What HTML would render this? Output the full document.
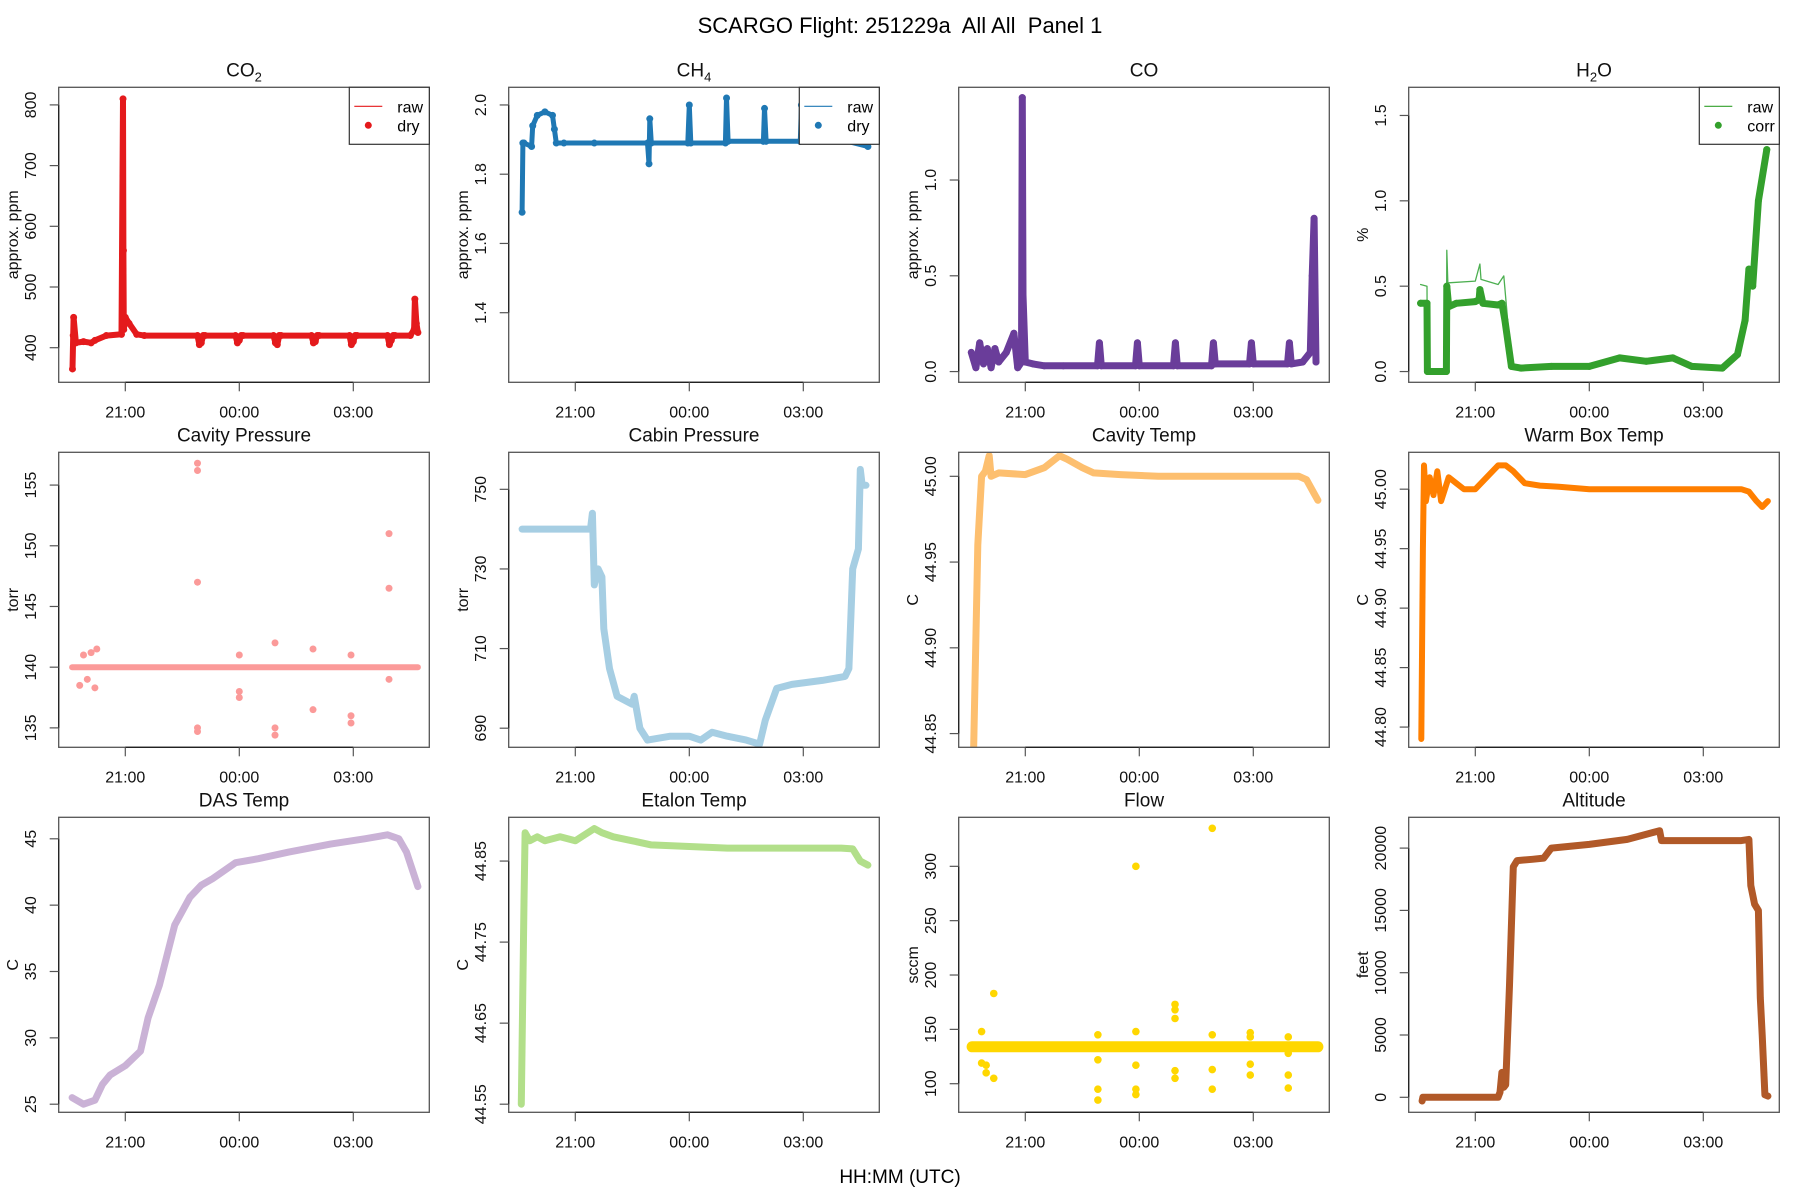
<!DOCTYPE html>
<html><head><meta charset="utf-8"><style>
html,body{margin:0;padding:0;background:#fff}
svg{display:block;font-family:"Liberation Sans",Arial,sans-serif}
</style></head><body>
<svg id="fig" width="1800" height="1200" viewBox="0 0 1800 1200">
<text x="900" y="33" text-anchor="middle" font-size="22" style="white-space:pre" xml:space="preserve">SCARGO Flight: 251229a  All All  Panel 1</text>
<text x="900" y="1183" text-anchor="middle" font-size="19">HH:MM (UTC)</text>
</svg>
<script>
// time in hours relative to 21:00 UTC
const xTickVals = [0, 3, 6];
const xTickLabels = ["21:00", "00:00", "03:00"];

const co2T = [-1.39,-1.37,-1.36,-1.3,-1.1,-0.9,-0.8,-0.5,-0.1,-0.06,-0.05,-0.04,0,0.1,0.3,0.5,1.9,1.95,2.0,2.05,2.1,2.9,2.95,3.0,3.05,3.1,3.9,3.95,4.0,4.05,4.1,4.9,4.95,5.0,5.05,5.1,5.9,5.95,6.0,6.05,6.1,6.9,6.95,7.0,7.05,7.1,7.5,7.6,7.62,7.66,7.7];
const co2V = [365,420,450,408,410,408,412,420,422,810,560,430,450,440,422,420,420,405,408,420,420,420,408,412,420,420,420,408,405,420,420,420,408,410,420,420,420,405,410,420,420,420,405,412,420,420,420,430,480,440,425];

const ch4T = [-1.4,-1.38,-1.35,-1.15,-1.12,-1.0,-0.8,-0.6,-0.55,-0.5,-0.3,0.5,1.9,1.94,1.96,2.0,2.96,3.0,3.04,3.95,3.98,4.02,4.95,4.98,5.02,5.92,5.95,5.98,6.92,6.95,6.98,7.7];
const ch4V = [1.69,1.89,1.89,1.88,1.94,1.97,1.98,1.97,1.93,1.89,1.89,1.89,1.89,1.83,1.96,1.89,1.89,2.0,1.89,1.89,2.02,1.895,1.895,1.99,1.895,1.895,2.0,1.9,1.9,1.98,1.9,1.88];

const coT = [-1.42,-1.3,-1.2,-1.1,-1.0,-0.9,-0.8,-0.7,-0.5,-0.3,-0.2,-0.1,-0.08,-0.06,0.0,0.2,0.5,1.0,1.9,1.95,2.0,2.9,2.95,3.0,3.9,3.95,4.0,4.9,4.95,5.0,5.9,5.95,6.0,6.9,6.95,7.0,7.3,7.5,7.55,7.6,7.65];
const coV = [0.1,0.02,0.15,0.04,0.12,0.02,0.12,0.05,0.1,0.2,0.02,0.05,1.43,0.4,0.05,0.04,0.03,0.03,0.03,0.15,0.03,0.03,0.15,0.03,0.03,0.15,0.03,0.03,0.15,0.04,0.04,0.15,0.04,0.04,0.15,0.04,0.05,0.1,0.5,0.8,0.05];

const h2oCorrT = [-1.44,-1.27,-1.26,-0.76,-0.75,-0.7,-0.5,0.0,0.1,0.12,0.2,0.6,0.7,0.78,0.95,1.2,2.0,3.0,3.8,4.5,5.2,5.7,6.5,6.9,7.1,7.2,7.3,7.45,7.67];
const h2oCorrV = [0.4,0.4,0.0,0.0,0.5,0.38,0.4,0.41,0.42,0.48,0.4,0.39,0.4,0.3,0.03,0.02,0.03,0.03,0.08,0.06,0.08,0.03,0.02,0.1,0.3,0.6,0.5,1.0,1.3];
const h2oRawT = [-1.44,-1.27,-1.26,-0.76,-0.75,-0.72,-0.7,0.0,0.12,0.15,0.6,0.75,0.95];
const h2oRawV = [0.51,0.5,0.0,0.0,0.71,0.51,0.52,0.53,0.63,0.54,0.51,0.56,0.05];

const cavPT = [-1.4,7.7];
const cavPV = [140,140];
const cavPOutT = [-1.2,-1.1,-1.0,-0.9,-0.8,-0.75,1.9,1.9,1.9,1.9,1.9,3.0,3.0,3.0,3.94,3.94,3.94,4.94,4.94,5.94,5.94,5.94,6.94,6.94,6.94];
const cavPOutV = [138.5,141,139,141.2,138.3,141.5,156.8,156.2,147,135,134.7,141,138,137.5,142,135,134.4,141.5,136.5,141,136,135.4,151,146.5,139];

const cabT = [-1.4,0.0,0.4,0.45,0.5,0.6,0.7,0.75,0.9,1.1,1.3,1.5,1.55,1.7,1.9,2.5,3.0,3.3,3.6,4.0,4.5,4.85,5.0,5.3,5.7,6.5,7.1,7.2,7.3,7.45,7.5,7.55,7.65];
const cabV = [740,740,740,744,726,730,728,715,705,698,697,696,698,690,687,688,688,687,689,688,687,686,692,700,701,702,703,705,730,735,755,751,751];

const cavTT = [-1.36,-1.25,-1.15,-1.05,-0.95,-0.9,-0.7,0.0,0.5,0.9,1.1,1.5,1.8,2.5,3.5,5.0,6.5,7.2,7.4,7.6,7.7];
const cavTV = [44.84,44.96,45.0,45.003,45.012,45.0,45.002,45.001,45.005,45.012,45.01,45.005,45.002,45.001,45.0,45.0,45.0,45.0,44.998,44.99,44.986];

const wbT = [-1.42,-1.38,-1.35,-1.3,-1.2,-1.1,-1.0,-0.9,-0.7,-0.5,-0.3,0.0,0.3,0.6,0.8,1.0,1.3,1.7,2.2,3.0,4.5,6.0,7.0,7.2,7.4,7.55,7.7];
const wbV = [44.79,44.95,45.02,44.99,45.01,44.995,45.015,44.99,45.01,45.005,45.0,45.0,45.01,45.02,45.02,45.015,45.005,45.003,45.002,45.0,45.0,45.0,45.0,44.998,44.99,44.985,44.99];

const dasT = [-1.4,-1.1,-0.8,-0.6,-0.4,0.0,0.4,0.6,0.9,1.3,1.7,2.0,2.3,2.9,3.5,4.3,5.4,6.3,6.9,7.2,7.4,7.7];
const dasV = [25.5,25,25.3,26.5,27.2,27.9,29,31.5,34,38.5,40.6,41.5,42,43.2,43.5,44,44.6,45,45.3,45,44,41.4];

const etaT = [-1.42,-1.35,-1.32,-1.2,-1.0,-0.8,-0.4,0.0,0.5,0.7,1.0,1.5,2.0,3.0,4.0,5.0,6.0,7.0,7.3,7.5,7.7];
const etaV = [44.55,44.80,44.885,44.875,44.88,44.875,44.88,44.875,44.89,44.885,44.88,44.875,44.87,44.868,44.866,44.866,44.866,44.866,44.865,44.85,44.845];

const flowT = [-1.4,7.7];
const flowV = [134,134];
const flowOutT = [-1.15,-1.15,-1.03,-1.03,-0.83,-0.83,1.91,1.91,1.91,1.91,2.91,2.91,2.91,2.91,2.91,3.94,3.94,3.94,3.94,3.94,4.92,4.92,4.92,4.92,5.92,5.92,5.92,5.92,6.92,6.92,6.92,6.92];
const flowOutV = [148,119,117,110,183,105,95,85,145,122,300,148,117,95,90,173,168,160,112,105,335,145,113,95,147,143,118,108,143,128,108,96];

const altT = [-1.4,-1.38,0.6,0.65,0.7,0.75,0.8,0.9,1.0,1.1,1.5,1.8,2.0,3.0,4.0,4.85,4.9,6.0,7.0,7.2,7.25,7.35,7.45,7.5,7.55,7.62,7.7];
const altV = [-300,0,0,400,2000,800,1000,9000,18500,19000,19100,19200,20000,20300,20700,21400,20600,20600,20600,20700,17000,15500,15000,8000,5000,200,100];

const NS = "http://www.w3.org/2000/svg";
const fig = document.getElementById("fig");
function mk(tag, attrs, parent){const e=document.createElementNS(NS,tag);for(const k in attrs)e.setAttribute(k,attrs[k]);(parent||fig).appendChild(e);return e;}

const BOX_L=58.7, BOX_R=429.3, BOX_T=87.3, BOX_B=382.3, COLW=450, ROWH=365;

function panel(col,row,opt){
  const ox=col*COLW, oy=row*ROWH;
  const L=ox+BOX_L, R=ox+BOX_R, T=oy+BOX_T, B=oy+BOX_B;
  const g=mk("g",{});
  
  
  const xs=t=>ox+125.3+38*t;
  const ys=v=>B-(v-opt.ymin)/(opt.ymax-opt.ymin)*(B-T);
  const clipId="c"+col+"_"+row;
  const cp=mk("clipPath",{id:clipId},g);
  mk("rect",{x:L,y:T,width:R-L,height:B-T},cp);
  const dg=mk("g",{"clip-path":"url(#"+clipId+")"},g);
  
  
  for(const s of opt.series){
    if(s.type==="line"){
      const pts=s.t.map((t,i)=>xs(t).toFixed(1)+","+ys(s.v[i]).toFixed(1)).join(" ");
      const p=mk("polyline",{points:pts,fill:"none",stroke:s.color,"stroke-width":s.w,"stroke-linejoin":"round","stroke-linecap":"round"},dg);
      
      
      if(s.dots){for(let i=0;i<s.t.length;i++){const c=mk("circle",{cx:xs(s.t[i]),cy:ys(s.v[i]),r:s.dots,fill:s.color},dg);
        
        }}
    } else {
      for(let i=0;i<s.t.length;i++){const c=mk("circle",{cx:xs(s.t[i]),cy:ys(s.v[i]),r:s.r,fill:s.color},dg);
        
        }
    }
  }
  const box=mk("rect",{x:L,y:T,width:R-L,height:B-T,fill:"none",stroke:"#555","stroke-width":1.3},g);
  
  
  const xa=mk("g",{},g);
  
  
  mk("line",{x1:xs(xTickVals[0]),x2:xs(xTickVals[xTickVals.length-1]),y1:B,y2:B,stroke:"#222","stroke-width":1.3},xa);
  xTickVals.forEach((tv,i)=>{
    mk("line",{x1:xs(tv),x2:xs(tv),y1:B,y2:B+9,stroke:"#555","stroke-width":1.2},xa);
    const tx=mk("text",{x:xs(tv),y:B+35,"text-anchor":"middle","font-size":16,fill:"#111"},xa);
    tx.textContent=xTickLabels[i];
    
    
  });
  const ya=mk("g",{},g);
  
  
  const yt=opt.ticks;
  mk("line",{x1:L,x2:L,y1:ys(yt[0]),y2:ys(yt[yt.length-1]),stroke:"#222","stroke-width":1.3},ya);
  yt.forEach((tv,i)=>{
    const y=ys(tv);
    mk("line",{x1:L-9,x2:L,y1:y,y2:y,stroke:"#555","stroke-width":1.2},ya);
    const tx=mk("text",{x:0,y:0,transform:"translate("+(ox+36)+","+y+") rotate(-90)","text-anchor":"middle","font-size":16,fill:"#111"},ya);
    tx.textContent=opt.tickLabels[i];
    
    
  });
  const yl=mk("text",{x:0,y:0,transform:"translate("+(ox+18)+","+((T+B)/2)+") rotate(-90)","text-anchor":"middle","font-size":16,fill:"#111"},g);
  yl.textContent=opt.ylab;
  
  
  const ti=mk("text",{x:(L+R)/2,y:T-11,"text-anchor":"middle","font-size":19,fill:"#111"},g);
  
  
  if(opt.sub){ti.textContent=opt.title[0];const ts=mk("tspan",{"font-size":13,dy:5},ti);ts.textContent=opt.title[1];const t3=mk("tspan",{dy:-5},ti);t3.textContent=opt.title[2]||"";}
  else ti.textContent=opt.title;
  if(opt.legend){
    const lg=mk("g",{},g);
    
    
    const lx=R-80;
    mk("rect",{x:lx,y:T,width:80,height:57,fill:"#fff",stroke:"#333","stroke-width":1.2},lg);
    mk("line",{x1:lx+5,x2:lx+33,y1:T+19,y2:T+19,stroke:opt.color,"stroke-width":1.2},lg);
    mk("circle",{cx:lx+19,cy:T+38,r:3.5,fill:opt.color},lg);
    const a=mk("text",{x:lx+48,y:T+25,"font-size":16},lg);a.textContent="raw";
    
    
    const b=mk("text",{x:lx+48,y:T+44,"font-size":16},lg);b.textContent=opt.legend;
    
    
  }
}

panel(0,0,{id:"co2",title:["CO","2"],sub:true,ylab:"approx. ppm",ymin:343,ymax:829,ticks:[400,500,600,700,800],tickLabels:["400","500","600","700","800"],legend:"dry",color:"#E41A1C",
  series:[{type:"line",t:co2T,v:co2V,color:"#E41A1C",w:6,dots:3.5,name:"co2-dry-series"}]});
panel(1,0,{id:"ch4",title:["CH","4"],sub:true,ylab:"approx. ppm",ymin:1.199,ymax:2.051,ticks:[1.4,1.6,1.8,2.0],tickLabels:["1.4","1.6","1.8","2.0"],legend:"dry",color:"#1F78B4",
  series:[{type:"line",t:ch4T,v:ch4V,color:"#1F78B4",w:5,dots:3.5,name:"ch4-dry-series"}]});
panel(2,0,{id:"co",title:"CO",ylab:"approx. ppm",ymin:-0.056,ymax:1.484,ticks:[0,0.5,1.0],tickLabels:["0.0","0.5","1.0"],
  series:[{type:"line",t:coT,v:coV,color:"#6A3D9A",w:7,dots:3.5,name:"co-series"}]});
panel(3,0,{id:"h2o",title:["H","2","O"],sub:true,ylab:"%",ymin:-0.063,ymax:1.665,ticks:[0,0.5,1.0,1.5],tickLabels:["0.0","0.5","1.0","1.5"],legend:"corr",color:"#33A02C",
  series:[{type:"line",t:h2oRawT,v:h2oRawV,color:"#4CAF50",w:1.3,name:"h2o-raw-series"},{type:"line",t:h2oCorrT,v:h2oCorrV,color:"#33A02C",w:7,dots:3.5,name:"h2o-corr-series"}]});
panel(0,1,{id:"cavity-pressure",title:"Cavity Pressure",ylab:"torr",ymin:133.4,ymax:157.7,ticks:[135,140,145,150,155],tickLabels:["135","140","145","150","155"],
  series:[{type:"line",t:cavPT,v:cavPV,color:"#FB9A99",w:6,name:"cavity-pressure-series"},{type:"pts",t:cavPOutT,v:cavPOutV,color:"#FB9A99",r:3.5,name:"cavity-pressure-outlier"}]});
panel(1,1,{id:"cabin-pressure",title:"Cabin Pressure",ylab:"torr",ymin:685.2,ymax:759.3,ticks:[690,710,730,750],tickLabels:["690","710","730","750"],
  series:[{type:"line",t:cabT,v:cabV,color:"#A6CEE3",w:7,name:"cabin-pressure-series"}]});
panel(2,1,{id:"cavity-temp",title:"Cavity Temp",ylab:"C",ymin:44.842,ymax:45.014,ticks:[44.85,44.90,44.95,45.00],tickLabels:["44.85","44.90","44.95","45.00"],
  series:[{type:"line",t:cavTT,v:cavTV,color:"#FDBF6F",w:7,name:"cavity-temp-series"}]});
panel(3,1,{id:"warm-box-temp",title:"Warm Box Temp",ylab:"C",ymin:44.783,ymax:45.031,ticks:[44.80,44.85,44.90,44.95,45.00],tickLabels:["44.80","44.85","44.90","44.95","45.00"],
  series:[{type:"line",t:wbT,v:wbV,color:"#FF7F00",w:6,name:"warm-box-temp-series"}]});
panel(0,2,{id:"das-temp",title:"DAS Temp",ylab:"C",ymin:24.39,ymax:46.62,ticks:[25,30,35,40,45],tickLabels:["25","30","35","40","45"],
  series:[{type:"line",t:dasT,v:dasV,color:"#CAB2D6",w:7,name:"das-temp-series"}]});
panel(1,2,{id:"etalon-temp",title:"Etalon Temp",ylab:"C",ymin:44.54,ymax:44.904,ticks:[44.55,44.65,44.75,44.85],tickLabels:["44.55","44.65","44.75","44.85"],
  series:[{type:"line",t:etaT,v:etaV,color:"#B2DF8A",w:7,name:"etalon-temp-series"}]});
panel(2,2,{id:"flow",title:"Flow",ylab:"sccm",ymin:73.7,ymax:345.1,ticks:[100,150,200,250,300],tickLabels:["100","150","200","250","300"],
  series:[{type:"line",t:flowT,v:flowV,color:"#FFD700",w:11,name:"flow-series"},{type:"pts",t:flowOutT,v:flowOutV,color:"#FFD700",r:3.8,name:"flow-outlier"}]});
panel(3,2,{id:"altitude",title:"Altitude",ylab:"feet",ymin:-1204,ymax:22472,ticks:[0,5000,10000,15000,20000],tickLabels:["0","5000","10000","15000","20000"],
  series:[{type:"line",t:altT,v:altV,color:"#B15928",w:7,name:"altitude-series"}]});
</script>
</body></html>
